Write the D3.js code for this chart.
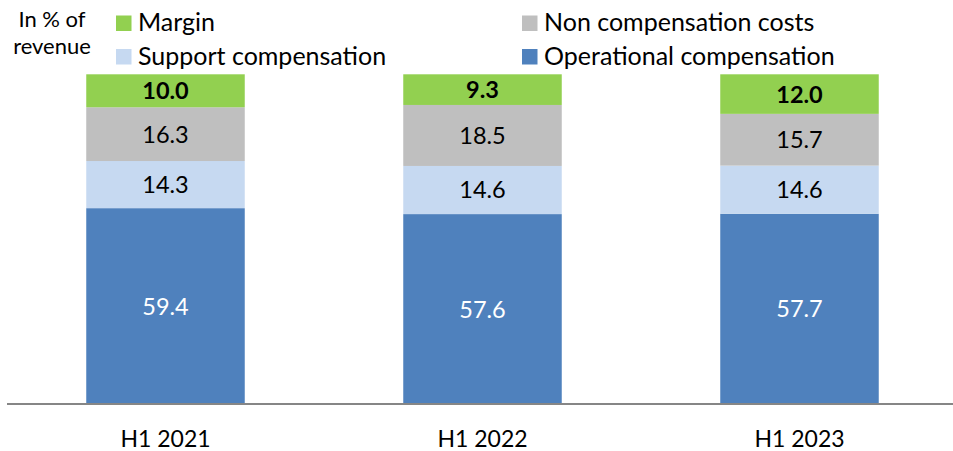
<!DOCTYPE html>
<html><head><meta charset="utf-8">
<script src="https://cdn.jsdelivr.net/npm/d3@7"></script>
<style>
body{margin:0;background:#fff;}
svg{display:block;font-family:Lato, "Open Sans", sans-serif;}
</style></head>
<body><svg id="c" width="953" height="451"></svg>
<script>
const categories = ["H1 2021","H1 2022","H1 2023"];
const operational = [59.4, 57.6, 57.7];
const support = [14.3, 14.6, 14.6];
const nonComp = [16.3, 18.5, 15.7];
const margin = [10.0, 9.3, 12.0];
const seriesNames = ["Operational compensation","Support compensation","Non compensation costs","Margin"];
const seriesColors = ["#4F81BD","#C6D9F1","#BFBFBF","#92D050"];
const labelColors = ["#fff","#000","#000","#000"];
const labelWeights = ["normal","normal","normal","bold"];
const yAxisTitle = ["In % of","revenue"];

const svg = d3.select("#c");
const x = d3.scaleBand().domain(categories).range([7,958]).paddingInner(0.5).paddingOuter(0.25);
const y = d3.scaleLinear().domain([0,100]).range([404,74.3]);

const rows = categories.map((c,i)=>({cat:c, s0:operational[i], s1:support[i], s2:nonComp[i], s3:margin[i]}));
const stack = d3.stack().keys(["s0","s1","s2","s3"])(rows);

stack.forEach((layer,k)=>{
  const g = svg.append("g");
  g.selectAll("rect").data(layer).enter().append("rect")
    .attr("x",d=>x(d.data.cat)).attr("width",x.bandwidth())
    .attr("y",d=>y(d[1])).attr("height",d=>y(d[0])-y(d[1]))
    .attr("fill",seriesColors[k]);
  g.selectAll("text").data(layer).enter().append("text")
    .attr("x",d=>x(d.data.cat)+x.bandwidth()/2)
    .attr("y",d=>(y(d[0])+y(d[1]))/2)
    .attr("dy","0.36em")
    .attr("text-anchor","middle")
    .attr("font-size",23.5)
    .attr("font-weight",labelWeights[k])
    .attr("fill",labelColors[k])
    .text(d=>(d[1]-d[0]).toFixed(1));
});

// axis
const ax = d3.axisBottom(x).tickSize(0).tickPadding(0);
const axg = svg.append("g").attr("transform","translate(0,404)").call(ax);
axg.select(".domain").remove();
axg.selectAll("text").attr("dy",null).attr("y",42.5).attr("font-size",23).attr("fill","#000").attr("font-family","Lato");
svg.append("line").attr("x1",7).attr("x2",953).attr("y1",404).attr("y2",404)
  .attr("stroke","#868686").attr("stroke-width",2.2);

// y title
svg.append("text").attr("x",52).attr("y",27).attr("text-anchor","middle").attr("font-size",22).text(yAxisTitle[0]);
svg.append("text").attr("x",52).attr("y",54).attr("text-anchor","middle").attr("font-size",22).text(yAxisTitle[1]);

// legend
const legendItems = [
  {name:seriesNames[3], color:seriesColors[3], x:116, y:15.5},
  {name:seriesNames[1], color:seriesColors[1], x:116, y:49},
  {name:seriesNames[2], color:seriesColors[2], x:522, y:15.5},
  {name:seriesNames[0], color:seriesColors[0], x:522, y:49}
];
const lg = svg.append("g").selectAll("g").data(legendItems).enter().append("g");
lg.append("rect").attr("x",d=>d.x).attr("y",d=>d.y).attr("width",15.5).attr("height",15.5).attr("fill",d=>d.color);
lg.append("text").attr("x",d=>d.x+22).attr("y",d=>d.y+15.5).attr("font-size",25).attr("fill","#000").text(d=>d.name);
</script></body></html>
